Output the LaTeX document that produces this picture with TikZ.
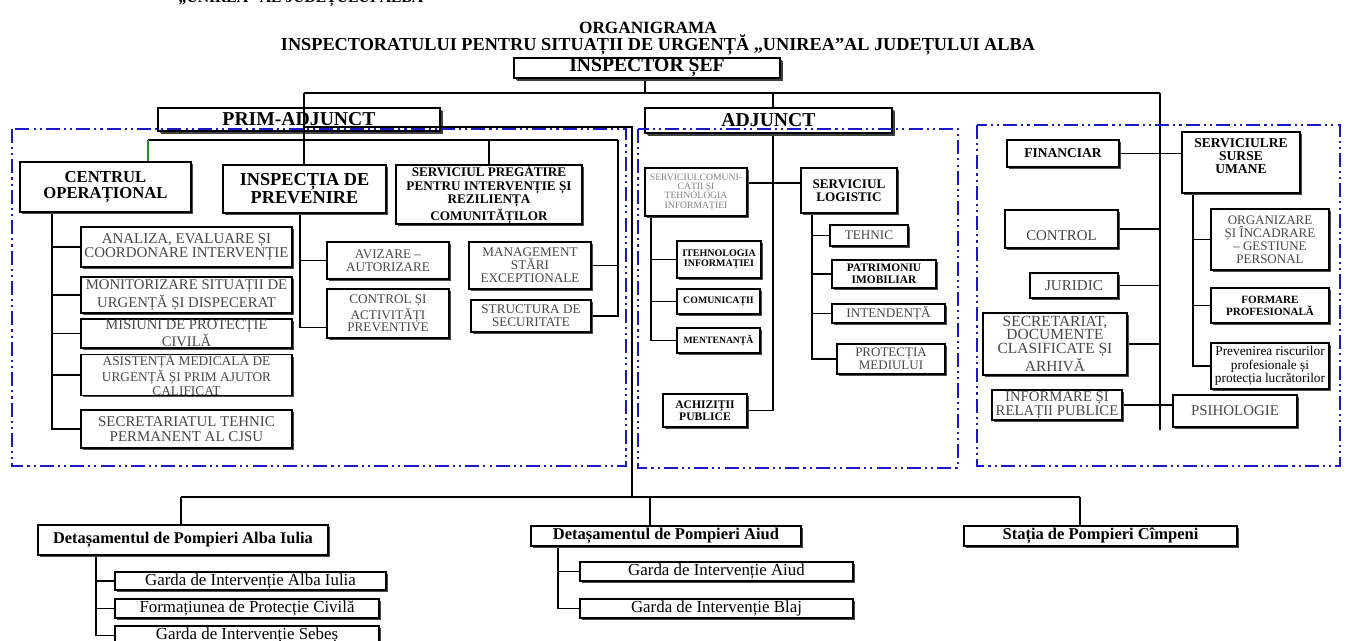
\documentclass[tikz,border=0pt]{standalone}
\usepackage{fontspec}
\setmainfont{Liberation Serif}
\usetikzlibrary{shadows,calc}
\definecolor{dblue}{RGB}{25,25,200}
\definecolor{dgreen}{RGB}{40,140,40}
\pgfdeclarelayer{bg}
\pgfsetlayers{bg,main}
\newcommand{\fsz}[2]{\fontsize{#1}{#2}\selectfont}
\tikzset{
  rect/.style n args={4}{at={({(#1+#3)/2},{(#2+#4)/2})},
    minimum width={(#3-#1)*0.02cm}, minimum height={(#4-#2)*0.02cm}},
  bx/.style={draw, line width=0.9pt, fill=white, inner sep=0pt, align=center, text=black!72,
    drop shadow={shadow xshift=1.1pt, shadow yshift=-1.1pt, fill=black!70, opacity=1}},
  bk/.style={bx, text=black},
  topbx/.style={bx, line width=1.6pt, text=black,
    drop shadow={shadow xshift=1.6pt, shadow yshift=-1.6pt, fill=black!75, opacity=1}},
  con/.style={line width=0.75pt},
  dreg/.style={draw=dblue, line width=1.5pt, dash pattern=on 8pt off 2.3pt on 1.2pt off 2.3pt on 1.2pt off 2.3pt}
}
\begin{document}
\begin{tikzpicture}[x=0.02cm,y=-0.02cm]
\useasboundingbox (0,0) rectangle (1346,641);
\clip (0,0) rectangle (1346,641);

% titles
\node[anchor=base, font=\bfseries\fsz{8.9}{9}] (t0) at (301,3) {„UNIREA” AL JUDEȚULUI ALBA};
\node[font=\bfseries\fsz{9.8}{10}] (t1) at (648,28) {ORGANIGRAMA};
\node[font=\bfseries\fsz{10.4}{11}] (t2) at (658,45) {INSPECTORATULUI PENTRU SITUAȚII DE URGENȚĂ „UNIREA”AL JUDEȚULUI ALBA};

% top level
\node[topbx, font=\bfseries\fsz{11.2}{12}, rect={514}{58}{780}{78}] (isef) {INSPECTOR ȘEF};
\node[topbx, font=\bfseries\fsz{11.2}{12}, rect={158}{108}{440}{131}] (pa) {PRIM-ADJUNCT};
\node[topbx, font=\bfseries\fsz{11.2}{12}, rect={645}{108}{892}{133}] (adj) {ADJUNCT};

% left group
\node[bk, font=\bfseries\fsz{9.5}{9.3}, rect={20}{162}{191}{212}] (centrul) {CENTRUL\\OPERAȚIONAL};
\node[bk, font=\bfseries\fsz{10.4}{10.2}, rect={223}{165}{386}{213}] (insp) {INSPECȚIA DE\\PREVENIRE};
\node[bk, font=\bfseries\fsz{7.5}{7.8}, rect={396}{167}{582}{222}] (serv) {SERVICIUL PREGĂTIRE\\PENTRU INTERVENȚIE ȘI\\REZILIENȚA\\COMUNITĂȚILOR};
\node[bx, font=\fsz{8.5}{8.2}, rect={81}{227}{292}{267}] (anal) {ANALIZA, EVALUARE ȘI\\COORDONARE INTERVENȚIE};
\node[bx, font=\fsz{8.4}{8.2}, rect={81}{277}{292}{313}] (monit) {MONITORIZARE SITUAȚII DE\\URGENȚĂ ȘI DISPECERAT};
\node[bx, font=\fsz{8.3}{8.2}, rect={81}{319}{292}{348}] (misiuni) {MISIUNI DE PROTECȚIE\\CIVILĂ};
\node[bx, font=\fsz{7.6}{7.6}, rect={81}{356}{292}{394}] (asist) {ASISTENȚĂ MEDICALĂ DE\\URGENȚĂ ȘI PRIM AJUTOR\\CALIFICAT};
\node[bx, font=\fsz{8.5}{8.4}, rect={81}{410}{292}{448}] (secteh) {SECRETARIATUL TEHNIC\\PERMANENT AL CJSU};
\node[bx, font=\fsz{7.5}{7.6}, rect={327}{242}{449}{279}] (aviz) {AVIZARE –\\AUTORIZARE};
\node[bx, font=\fsz{7.5}{7.1}, rect={327}{289}{449}{338}] (ctrl) {CONTROL ȘI\\ACTIVITĂȚI\\PREVENTIVE};
\node[bx, font=\fsz{7.5}{7.3}, rect={469}{242}{591}{289}] (mgmt) {MANAGEMENT\\STĂRI\\EXCEPTIONALE};
\node[bx, font=\fsz{7.5}{7.6}, rect={471}{300}{591}{332}] (struct) {STRUCTURA DE\\SECURITATE};

% middle group
\node[bx, text=black!50, font=\fsz{5.5}{5.3}, rect={645}{168}{747}{216}] (com) {SERVICIULCOMUNI-\\CAȚII ȘI\\TEHNOLOGIA\\INFORMAȚIEI};
\node[bk, font=\bfseries\fsz{7.5}{7.5}, rect={801}{168}{897}{213}] (logi) {SERVICIUL\\LOGISTIC};
\node[bk, font=\bfseries\fsz{5.7}{6}, rect={677}{241}{761}{278}] (iteh) {ITEHNOLOGIA\\INFORMAȚIEI};
\node[bk, font=\bfseries\fsz{5.6}{6}, rect={677}{289}{760}{314}] (comm) {COMUNICAȚII};
\node[bk, font=\bfseries\fsz{5.5}{6}, rect={677}{328}{760}{353}] (ment) {MENTENANȚĂ};
\node[bk, font=\bfseries\fsz{6.6}{6.8}, rect={663}{394}{747}{427}] (achiz) {ACHIZIȚII\\PUBLICE};
\node[bx, font=\fsz{7.5}{7.5}, rect={830}{225}{908}{246}] (tehn) {TEHNIC};
\node[bk, font=\bfseries\fsz{6.5}{6.6}, rect={832}{260}{936}{288}] (patr) {PATRIMONIU\\IMOBILIAR};
\node[bx, font=\fsz{7.5}{7.5}, rect={832}{304}{945}{323}] (inten) {INTENDENȚĂ};
\node[bx, font=\fsz{7.4}{7.6}, rect={837}{344}{945}{374}] (prot) {PROTECȚIA\\MEDIULUI};

% right group
\node[bk, font=\bfseries\fsz{7.7}{7.7}, rect={1007}{140}{1119}{167}] (fin) {FINANCIAR};
\node[bk, font=\bfseries\fsz{7.7}{7.4}, rect={1182}{132}{1300}{193}] (res) {SERVICIULRE\\SURSE\\UMANE\\\mbox{}};
\node[bx, font=\fsz{8.5}{8.5}, rect={1005}{210}{1118}{248}] (ctrlr) {\mbox{}\\[5pt]CONTROL};
\node[bx, font=\fsz{8.6}{8.6}, rect={1030}{273}{1118}{298}] (jur) {JURIDIC};
\node[bx, font=\fsz{8.8}{7.8}, rect={983}{313}{1127}{375}] (secr) {SECRETARIAT,\\DOCUMENTE\\CLASIFICATE ȘI\\ARHIVĂ};
\node[bx, font=\fsz{8.4}{8.1}, rect={992}{390}{1122}{420}] (inf) {INFORMARE ȘI\\RELAȚII PUBLICE};
\node[bx, font=\fsz{8.5}{8.5}, rect={1173}{395}{1297}{427}] (psih) {PSIHOLOGIE};
\node[bx, font=\fsz{7.4}{7.4}, rect={1211}{209}{1329}{270}] (org) {ORGANIZARE\\ȘI ÎNCADRARE\\– GESTIUNE\\PERSONAL};
\node[bk, font=\bfseries\fsz{6.3}{6.8}, rect={1211}{288}{1329}{323}] (form) {FORMARE\\PROFESIONALĂ};
\node[bk, font=\fsz{7.6}{7.7}, rect={1211}{343}{1329}{389}] (prev) {Prevenirea riscurilor\\profesionale și\\protecția lucrătorilor};

% bottom group
\node[bk, font=\bfseries\fsz{9.3}{10}, rect={38}{525}{328}{555}] (det1) {Detașamentul de Pompieri Alba Iulia};
\node[bk, font=\bfseries\fsz{9.4}{10}, rect={531}{526}{801}{546}] (det2) {Detașamentul de Pompieri Aiud};
\node[bk, font=\bfseries\fsz{9.4}{10}, rect={964}{526}{1237}{546}] (det3) {Stația de Pompieri Cîmpeni};
\node[bk, font=\fsz{9.6}{10}, rect={115}{572}{386}{590}] (g1) {Garda de Intervenție Alba Iulia};
\node[bk, font=\fsz{9.6}{10}, rect={115}{599}{379}{618}] (g2) {Formațiunea de Protecție Civilă};
\node[bk, font=\fsz{9.6}{10}, rect={115}{626}{379}{645}] (g3) {Garda de Intervenție Sebeș};
\node[bk, font=\fsz{9.6}{10}, rect={580}{562}{853}{581}] (g4) {Garda de Intervenție Aiud};
\node[bk, font=\fsz{9.6}{10}, rect={580}{599}{853}{618}] (g5) {Garda de Intervenție Blaj};

% connectors behind boxes
\begin{pgfonlayer}{bg}
\coordinate (hL) at (304,93);
\coordinate (hR) at (1160,93);
\coordinate (isb) at (645,93);
\coordinate (av) at (773,0);
\coordinate (rb) at (1160,430);
\draw[con] (isef.south -| isb) -- (isb);
\draw[con] (hL) -- (hR);
\draw[con] (adj.north -| av) -- (av |- hL);
\draw[con] (hR) -- (rb);

\coordinate (lhL) at (148,140);
\coordinate (lhR) at (618,140);
\draw[con] (lhL) -- (lhR);
\draw[con, draw=dgreen] (lhL) -- (centrul.north -| lhL);
\draw[con] (serv.north |- lhR) -- (serv.north);
\draw[con] (lhR) |- (struct.east);
\draw[con] (mgmt.east) -- (mgmt.east -| lhR);

\coordinate (cv) at (52,0);
\draw[con] (centrul.south -| cv) |- (secteh.west);
\foreach \n in {anal,monit,misiuni,asist} \draw[con] (\n.west) -- (\n.west -| cv);

\coordinate (iv) at (300,0);
\draw[con] (insp.south -| iv) |- ([yshift=-8pt]ctrl.west);
\draw[con] (aviz.west) -- (aviz.west -| iv);

\coordinate (ch) at (0,183);
\draw[con] (com.east |- ch) -- (logi.west |- ch);
\draw[con] (adj.south -| av) |- (achiz.east);
\coordinate (cmv) at (651,0);
\draw[con] (com.south -| cmv) |- (ment.west);
\foreach \n in {iteh,comm} \draw[con] (\n.west) -- (\n.west -| cmv);
\coordinate (lv) at (812,0);
\draw[con] (logi.south -| lv) |- (prot.west);
\foreach \n in {tehn,patr,inten} \draw[con] (\n.west) -- (\n.west -| lv);

\draw[con] (fin.east) -- (fin.east -| res.west);
\foreach \n in {ctrlr,jur,secr} \draw[con] (\n.east) -- (\n.east -| rb);
\draw[con] (inf.east) -- (inf.east -| psih.west);
\coordinate (rsv) at (1193,0);
\draw[con] (res.south -| rsv) |- (prev.west);
\foreach \n in {org,form} \draw[con] (\n.west) -- (\n.west -| rsv);

\coordinate (pr3) at (632,497);
\coordinate (bL) at (181,497);
\coordinate (bR) at (1080,497);
\coordinate (d2) at (650,497);
\draw[con] (bL) -- (bR);
\draw[con] (bL) -- (bL |- det1.north);
\draw[con] (d2) -- (d2 |- det2.north);
\draw[con] (bR) -- (bR |- det3.north);
\coordinate (d1v) at (96,0);
\draw[con] (det1.south -| d1v) |- (g3.west);
\foreach \n in {g1,g2} \draw[con] (\n.west) -- (\n.west -| d1v);
\coordinate (d2v) at (558,0);
\draw[con] (det2.south -| d2v) |- (g5.west);
\draw[con] (g4.west) -- (g4.west -| d2v);
\end{pgfonlayer}

% lines running over the PRIM-ADJUNCT box
\coordinate (pr1) at (304,127);
\coordinate (pr2) at (632,127);
\draw[con] (hL) -- (insp.north -| hL);
\draw[con] (pr1) -- (pr2) -- (pr3);

% dash-dot-dot regions
\draw[dreg] (12,129) rectangle (626,466);
\draw[dreg] (638,129) rectangle (958,468);
\draw[dreg] (977,125) rectangle (1340,466);
\end{tikzpicture}
\end{document}
